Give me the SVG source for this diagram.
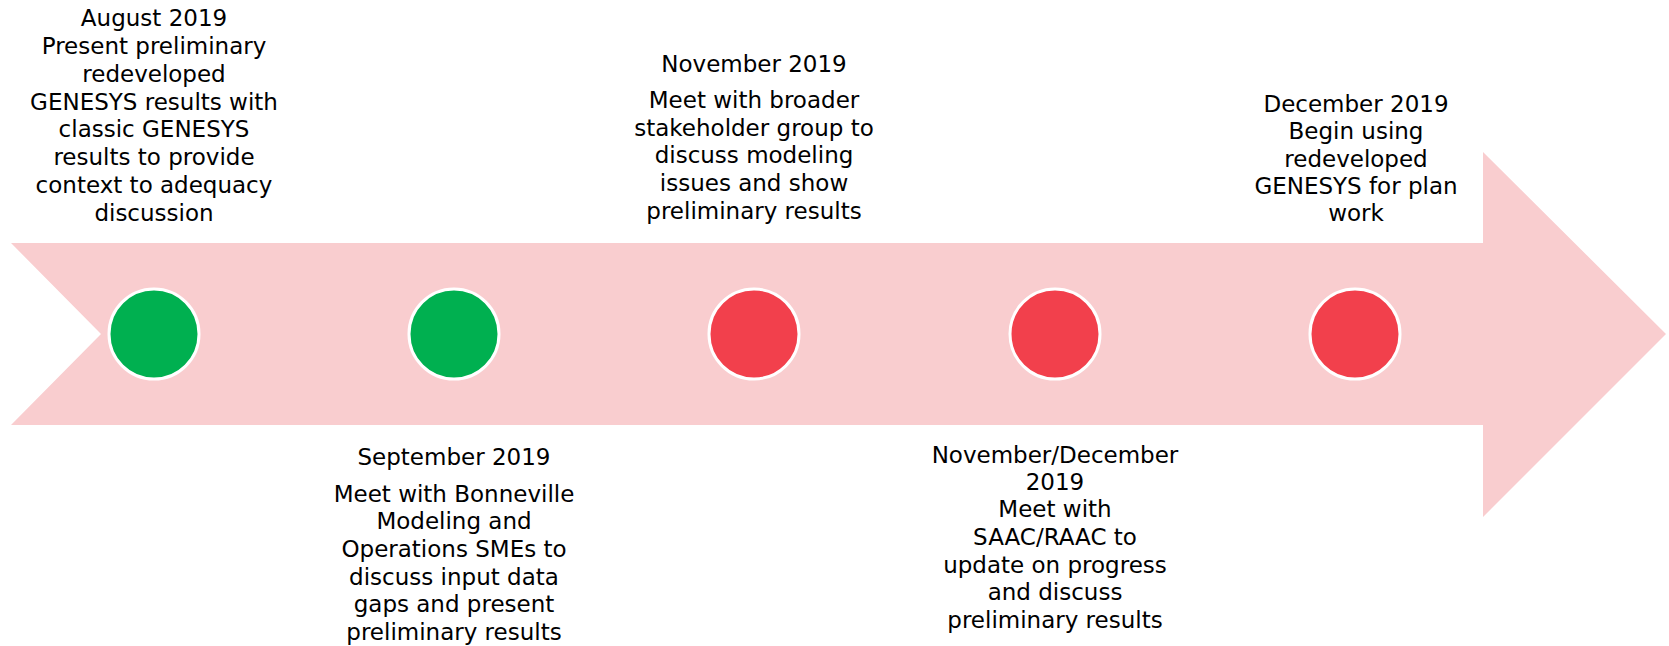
<svg xmlns="http://www.w3.org/2000/svg" width="1669" height="646" viewBox="0 0 1669 646">
<style>
.t{font-family:"DejaVu Sans","Liberation Sans",sans-serif;font-size:23px;fill:#000;text-anchor:middle}
.g{fill:#00B050;stroke:#fff;stroke-width:3}
.r{fill:#F2404C;stroke:#fff;stroke-width:3}
</style>
<rect width="1669" height="646" fill="#fff"/>
<g id="arrow">
<polygon points="11,243 1483,243 1483,152 1666,334 1483,517 1483,425 11,425 101,334" fill="#F9CDCF"/>
</g>
<g id="connectors"></g>
<g id="n1">
<circle class="g" cx="154" cy="334" r="45"/>
<text class="t" x="154"><tspan x="154" y="26">August 2019</tspan><tspan x="154" y="54">Present preliminary</tspan><tspan x="154" y="82">redeveloped</tspan><tspan x="154" y="110">GENESYS results with</tspan><tspan x="154" y="137">classic GENESYS</tspan><tspan x="154" y="165">results to provide</tspan><tspan x="154" y="193">context to adequacy</tspan><tspan x="154" y="221">discussion</tspan></text>
</g>
<g id="n2">
<circle class="g" cx="454" cy="334" r="45"/>
<text class="t"><tspan x="454" y="465">September 2019</tspan><tspan x="454" y="502">Meet with Bonneville</tspan><tspan x="454" y="529">Modeling and</tspan><tspan x="454" y="557">Operations SMEs to</tspan><tspan x="454" y="585">discuss input data</tspan><tspan x="454" y="612">gaps and present</tspan><tspan x="454" y="640">preliminary results</tspan></text>
</g>
<g id="n3">
<circle class="r" cx="754" cy="334" r="45"/>
<text class="t"><tspan x="754" y="72">November 2019</tspan><tspan x="754" y="108">Meet with broader</tspan><tspan x="754" y="136">stakeholder group to</tspan><tspan x="754" y="163">discuss modeling</tspan><tspan x="754" y="191">issues and show</tspan><tspan x="754" y="219">preliminary results</tspan></text>
</g>
<g id="n4">
<circle class="r" cx="1055" cy="334" r="45"/>
<text class="t"><tspan x="1055" y="463">November/December</tspan><tspan x="1055" y="490">2019</tspan><tspan x="1055" y="517">Meet with</tspan><tspan x="1055" y="545">SAAC/RAAC to</tspan><tspan x="1055" y="573">update on progress</tspan><tspan x="1055" y="600">and discuss</tspan><tspan x="1055" y="628">preliminary results</tspan></text>
</g>
<g id="n5">
<circle class="r" cx="1355" cy="334" r="45"/>
<text class="t"><tspan x="1356" y="112">December 2019</tspan><tspan x="1356" y="139">Begin using</tspan><tspan x="1356" y="167">redeveloped</tspan><tspan x="1356" y="194">GENESYS for plan</tspan><tspan x="1356" y="221">work</tspan></text>
</g>
</svg>
